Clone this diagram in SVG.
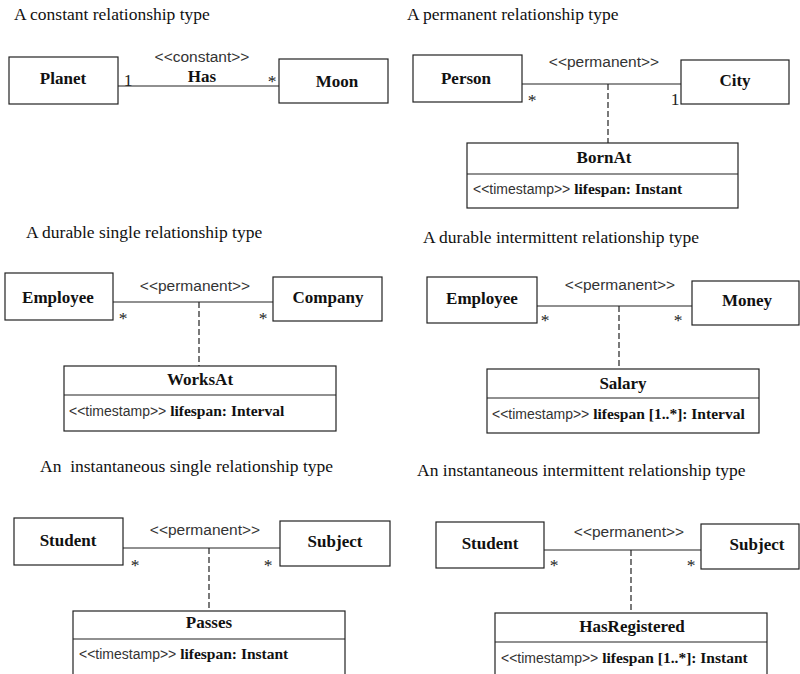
<svg xmlns="http://www.w3.org/2000/svg" width="800" height="674" viewBox="0 0 800 674">
<style>
.bg{fill:#fff}
.title{font-family:"Liberation Serif",serif;font-size:17.5px;fill:#111}
.name{font-family:"Liberation Serif",serif;font-size:17px;font-weight:bold;text-anchor:middle;fill:#111}
.st{font-family:"Liberation Sans",sans-serif;font-size:15.5px;text-anchor:middle;fill:#333}
.attr{font-family:"Liberation Sans",sans-serif;font-size:14px;fill:#333}
.attrb{font-family:"Liberation Serif",serif;font-size:15.5px;font-weight:bold;fill:#111}
.mult{font-family:"Liberation Serif",serif;font-size:17.5px;text-anchor:middle;fill:#222}
.box{fill:#fff;stroke:#222;stroke-width:1.2}
.div{stroke:#222;stroke-width:1.2}
.assoc{stroke:#222;stroke-width:1.2;fill:none}
.dash{stroke:#222;stroke-width:1.2;stroke-dasharray:6,3;fill:none}
</style>
<rect class="bg" x="0" y="0" width="800" height="674"/>

<!-- titles -->
<g id="titles">
<text class="title" x="14" y="20">A constant relationship type</text>
<text class="title" x="407" y="20">A permanent relationship type</text>
<text class="title" x="26" y="238">A durable single relationship type</text>
<text class="title" x="423" y="243">A durable intermittent relationship type</text>
<text class="title" x="40" y="472" xml:space="preserve">An  instantaneous single relationship type</text>
<text class="title" x="417" y="476">An instantaneous intermittent relationship type</text>
</g>

<!-- connectors -->
<g id="connectors">
<line class="assoc" x1="118" y1="86" x2="279" y2="86"/>
<line class="assoc" x1="522" y1="84" x2="683" y2="84"/>
<line class="dash" x1="608" y1="84" x2="608" y2="143"/>
<line class="assoc" x1="113" y1="302" x2="273" y2="302"/>
<line class="dash" x1="199" y1="302" x2="199" y2="366"/>
<line class="assoc" x1="537" y1="306" x2="693" y2="306"/>
<line class="dash" x1="619" y1="306" x2="619" y2="369"/>
<line class="assoc" x1="123" y1="548" x2="280" y2="548"/>
<line class="dash" x1="209" y1="548" x2="209" y2="611"/>
<line class="assoc" x1="544" y1="550" x2="701" y2="550"/>
<line class="dash" x1="631" y1="550" x2="631" y2="613"/>
</g>

<!-- connector labels -->
<g id="labels">
<text class="st" x="202" y="62">&lt;&lt;constant&gt;&gt;</text>
<text class="name" x="202" y="82">Has</text>
<text class="mult" x="128" y="86">1</text>
<text class="mult" x="272" y="87">*</text>

<text class="st" x="604" y="67">&lt;&lt;permanent&gt;&gt;</text>
<text class="mult" x="532" y="106">*</text>
<text class="mult" x="675" y="105">1</text>

<text class="st" x="195" y="291">&lt;&lt;permanent&gt;&gt;</text>
<text class="mult" x="123" y="324">*</text>
<text class="mult" x="263" y="324">*</text>

<text class="st" x="620" y="290">&lt;&lt;permanent&gt;&gt;</text>
<text class="mult" x="545" y="326">*</text>
<text class="mult" x="678" y="326">*</text>

<text class="st" x="205" y="535">&lt;&lt;permanent&gt;&gt;</text>
<text class="mult" x="135" y="571">*</text>
<text class="mult" x="268" y="571">*</text>

<text class="st" x="629" y="537">&lt;&lt;permanent&gt;&gt;</text>
<text class="mult" x="554" y="571">*</text>
<text class="mult" x="691" y="571">*</text>
</g>

<!-- panel 1 -->
<g id="planet">
<rect class="box" x="9" y="57" width="109" height="47"/>
<text class="name" x="63" y="84">Planet</text>
</g>
<g id="moon">
<rect class="box" x="279" y="59" width="109" height="44"/>
<text class="name" x="337" y="87">Moon</text>
</g>

<!-- panel 2 -->
<g id="person">
<rect class="box" x="413" y="55" width="109" height="47"/>
<text class="name" x="466" y="84">Person</text>
</g>
<g id="city">
<rect class="box" x="681" y="60" width="108" height="44"/>
<text class="name" x="735" y="86">City</text>
</g>
<g id="bornat">
<rect class="box" x="467" y="143" width="271" height="65"/>
<line class="div" x1="467" y1="174" x2="738" y2="174"/>
<text class="name" x="604" y="163">BornAt</text>
<text x="473" y="194"><tspan class="attr">&lt;&lt;timestamp&gt;&gt; </tspan><tspan class="attrb">lifespan: Instant</tspan></text>
</g>

<!-- panel 3 -->
<g id="employee1">
<rect class="box" x="5" y="273" width="108" height="47"/>
<text class="name" x="58" y="303">Employee</text>
</g>
<g id="company">
<rect class="box" x="273" y="277" width="109" height="44"/>
<text class="name" x="328" y="303">Company</text>
</g>
<g id="worksat">
<rect class="box" x="64" y="366" width="272" height="65"/>
<line class="div" x1="64" y1="395" x2="336" y2="395"/>
<text class="name" x="200" y="385">WorksAt</text>
<text x="69" y="416"><tspan class="attr">&lt;&lt;timestamp&gt;&gt; </tspan><tspan class="attrb">lifespan: Interval</tspan></text>
</g>

<!-- panel 4 -->
<g id="employee2">
<rect class="box" x="427" y="277" width="110" height="46"/>
<text class="name" x="482" y="304">Employee</text>
</g>
<g id="money">
<rect class="box" x="692" y="281" width="107" height="44"/>
<text class="name" x="747" y="306">Money</text>
</g>
<g id="salary">
<rect class="box" x="487" y="369" width="272" height="64"/>
<line class="div" x1="487" y1="398" x2="759" y2="398"/>
<text class="name" x="623" y="389">Salary</text>
<text x="492" y="419"><tspan class="attr">&lt;&lt;timestamp&gt;&gt; </tspan><tspan class="attrb">lifespan [1..*]: Interval</tspan></text>
</g>

<!-- panel 5 -->
<g id="student1">
<rect class="box" x="14" y="518" width="109" height="47"/>
<text class="name" x="68" y="546">Student</text>
</g>
<g id="subject1">
<rect class="box" x="280" y="521" width="110" height="45"/>
<text class="name" x="335" y="547">Subject</text>
</g>
<g id="passes">
<rect class="box" x="73" y="611" width="272" height="80"/>
<line class="div" x1="73" y1="639" x2="345" y2="639"/>
<text class="name" x="209" y="628">Passes</text>
<text x="79" y="659"><tspan class="attr">&lt;&lt;timestamp&gt;&gt; </tspan><tspan class="attrb">lifespan: Instant</tspan></text>
</g>

<!-- panel 6 -->
<g id="student2">
<rect class="box" x="436" y="522" width="108" height="46"/>
<text class="name" x="490" y="549">Student</text>
</g>
<g id="subject2">
<rect class="box" x="701" y="524" width="98" height="45"/>
<text class="name" x="757" y="550">Subject</text>
</g>
<g id="hasregistered">
<rect class="box" x="495" y="613" width="272" height="80"/>
<line class="div" x1="495" y1="642" x2="767" y2="642"/>
<text class="name" x="632" y="632">HasRegistered</text>
<text x="501" y="663"><tspan class="attr">&lt;&lt;timestamp&gt;&gt; </tspan><tspan class="attrb">lifespan [1..*]: Instant</tspan></text>
</g>
</svg>
